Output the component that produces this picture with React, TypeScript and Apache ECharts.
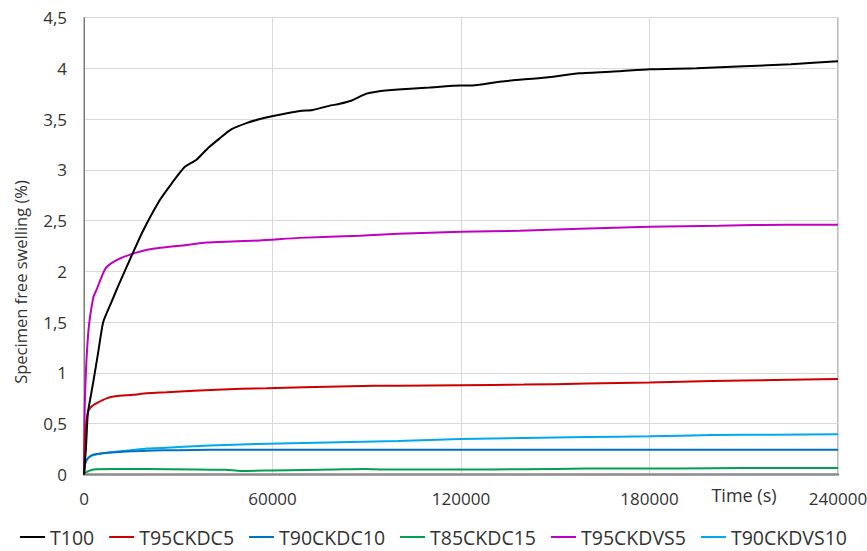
import React, { useEffect, useRef } from "react";
import * as echarts from "echarts";

const seriesNames = ["T100", "T95CKDC5", "T90CKDC10", "T85CKDC15", "T95CKDVS5", "T90CKDVS10"];
const seriesColors = ["#000000", "#cc0000", "#0070c0", "#00a050", "#c000c0", "#00a8ec"];

const t100Time = [0, 600, 1200, 1900, 3000, 4500, 6100, 8500, 10800, 15100, 18800, 24100, 28000, 32100, 35800, 39500, 43200, 47000, 51700, 56000, 60200, 68700, 72800, 78000, 81400, 85000, 89900, 93100, 100000, 110000, 120100, 122800, 132800, 147100, 157700, 170000, 180000, 195000, 210000, 225000, 240000];
const t100Value = [0, 0.25, 0.6, 0.73, 0.92, 1.2, 1.5, 1.68, 1.85, 2.15, 2.4, 2.7, 2.87, 3.03, 3.1, 3.215, 3.31, 3.4, 3.46, 3.5, 3.53, 3.58, 3.59, 3.63, 3.65, 3.68, 3.75, 3.77, 3.79, 3.81, 3.83, 3.83, 3.87, 3.91, 3.95, 3.97, 3.99, 4.0, 4.02, 4.04, 4.07];

const t95ckdc5Time = [0, 300, 600, 1340, 2420, 4500, 7190, 10000, 15650, 20000, 26270, 35000, 42180, 50000, 58080, 70000, 85000, 100000, 120000, 140000, 160000, 180000, 200000, 220000, 240000];
const t95ckdc5Value = [0, 0.3, 0.47, 0.62, 0.67, 0.71, 0.75, 0.77, 0.785, 0.8, 0.81, 0.825, 0.835, 0.845, 0.85, 0.86, 0.87, 0.875, 0.88, 0.885, 0.895, 0.905, 0.92, 0.93, 0.94];

const t90ckdc10Time = [0, 300, 1000, 2000, 3000, 6000, 10000, 15000, 20000, 30000, 40000, 60000, 100000, 150000, 200000, 240000];
const t90ckdc10Value = [0, 0.1, 0.15, 0.18, 0.195, 0.21, 0.22, 0.228, 0.235, 0.24, 0.243, 0.243, 0.243, 0.243, 0.243, 0.243];

const t85ckdc15Time = [0, 500, 1500, 3000, 10000, 20000, 35000, 45000, 50000, 60000, 70000, 80000, 90000, 95000, 110000, 130000, 150000, 170000, 190000, 210000, 240000];
const t85ckdc15Value = [0, 0.02, 0.035, 0.05, 0.053, 0.053, 0.05, 0.046, 0.035, 0.04, 0.045, 0.05, 0.055, 0.05, 0.05, 0.05, 0.055, 0.06, 0.06, 0.065, 0.065];

const t95ckdvs5Time = [0, 286, 1340, 2930, 4000, 6870, 10370, 15140, 21500, 32630, 39000, 55950, 68600, 87700, 100000, 120000, 138700, 157700, 180000, 202000, 224000, 240000];
const t95ckdvs5Value = [0, 0.73, 1.39, 1.74, 1.82, 2.03, 2.11, 2.17, 2.22, 2.26, 2.285, 2.305, 2.33, 2.35, 2.37, 2.39, 2.4, 2.42, 2.44, 2.45, 2.46, 2.46];

const t90ckdvs10Time = [0, 300, 1000, 2000, 3000, 6000, 10000, 15000, 20000, 30000, 40000, 55000, 70000, 85000, 100000, 120000, 140000, 160000, 180000, 200000, 220000, 240000];
const t90ckdvs10Value = [0, 0.1, 0.15, 0.18, 0.195, 0.21, 0.225, 0.24, 0.255, 0.27, 0.285, 0.3, 0.31, 0.32, 0.33, 0.35, 0.36, 0.37, 0.376, 0.388, 0.392, 0.396];

const allTimes = [t100Time, t95ckdc5Time, t90ckdc10Time, t85ckdc15Time, t95ckdvs5Time, t90ckdvs10Time];
const allValues = [t100Value, t95ckdc5Value, t90ckdc10Value, t85ckdc15Value, t95ckdvs5Value, t90ckdvs10Value];

const xTicks = [0, 60000, 120000, 180000, 240000];
const xAxisTitle = "Time (s)";
const yAxisTitle = "Specimen free swelling (%)";

const FONT = "'Open Sans', sans-serif";
const TEXT = "#333333";

export default function App() {
  const ref = useRef<HTMLDivElement>(null);
  useEffect(() => {
    if (!ref.current) return;
    const chart = echarts.init(ref.current, undefined, { renderer: "svg" });
    const series = seriesNames.map((name, i) => ({
      name,
      type: "line",
      data: allTimes[i].map((t, j) => [t, allValues[i][j]]),
      showSymbol: false,
      symbol: "none",
      smooth: 0.2,
      lineStyle: { color: seriesColors[i], width: 2 },
      itemStyle: { color: seriesColors[i] },
      z: 10 - i,
    }));
    chart.setOption({
      animation: false,
      backgroundColor: "#ffffff",
      textStyle: { fontFamily: FONT },
      grid: {
        left: 84,
        right: 29,
        top: 17.5,
        bottom: 76.5,
        show: true,
        borderColor: "#7a7a7a",
        borderWidth: 1,
        containLabel: false,
        outerBoundsMode: "none",
      },
      xAxis: {
        type: "value",
        min: xTicks[0],
        max: xTicks[xTicks.length - 1],
        interval: xTicks[1] - xTicks[0],
        axisLine: { show: true, lineStyle: { color: "#8a8a8a", width: 2.5 } },
        axisTick: { show: false },
        splitLine: { show: true, lineStyle: { color: "#d9d9d9", width: 1 } },
        axisLabel: {
          color: TEXT,
          fontSize: 17,
          fontFamily: FONT,
          margin: 15,
          formatter: (v: number) => String(v),
        },
      },
      yAxis: {
        type: "value",
        min: 0,
        max: 4.5,
        interval: 0.5,
        axisLine: { show: true, lineStyle: { color: "#7a7a7a", width: 1 } },
        axisTick: { show: false },
        splitLine: { show: true, lineStyle: { color: "#d9d9d9", width: 1 } },
        axisLabel: {
          color: TEXT,
          fontSize: 17,
          fontFamily: FONT,
          margin: 17,
          formatter: (v: number) => String(v).replace(".", ","),
        },
      },
      legend: {
        left: 20,
        top: 527,
        padding: 0,
        itemGap: 15,
        itemWidth: 25,
        itemHeight: 2,
        icon: "rect",
        textStyle: { color: TEXT, fontSize: 19.5, lineHeight: 20, fontFamily: FONT },
        data: seriesNames,
      },
      graphic: [
        {
          type: "text",
          x: 20,
          y: 282,
          rotation: Math.PI / 2,
          style: {
            text: yAxisTitle,
            fill: TEXT,
            font: `16.5px ${FONT}`,
            align: "center",
            verticalAlign: "middle",
          },
        },
        {
          type: "text",
          x: 744,
          y: 495,
          style: {
            text: xAxisTitle,
            fill: TEXT,
            font: `18px ${FONT}`,
            align: "center",
            verticalAlign: "middle",
          },
        },
      ],
      series,
    });
    return () => chart.dispose();
  }, []);
  return (
    <div
      ref={ref}
      style={{ width: 867, height: 551, position: "fixed", left: 0, top: 0 }}
    />
  );
}
